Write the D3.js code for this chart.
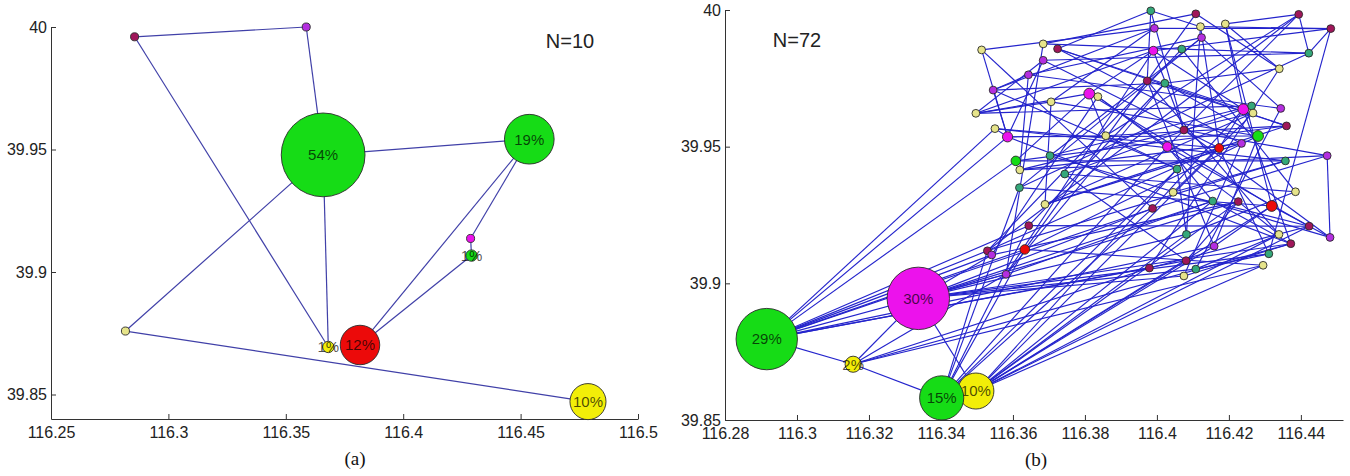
<!DOCTYPE html>
<html>
<head>
<meta charset="utf-8">
<script src="https://cdn.jsdelivr.net/npm/d3@7"></script>
<style>
  html, body { margin: 0; padding: 0; background: #fff; }
  svg { display: block; }
</style>
</head>
<body>
<svg id="chart" width="1350" height="476"></svg>
<script>
// ---------- Panel (a): N = 10 stay points ----------
const lonA   = [116.2856, 116.3587, 116.3659, 116.4537, 116.4287, 116.4291, 116.3681, 116.3816, 116.2817, 116.4787];
const latA   = [39.9960, 40.0000, 39.9478, 39.9542, 39.9137, 39.9067, 39.8694, 39.8702, 39.8759, 39.8471];
const shareA = [0.5, 0.5, 54, 19, 0.5, 1, 1, 12, 0.5, 10];
const groupA = ["m", "p", "G", "G", "M", "G", "Y", "R", "y", "Y"];
const edgesA = [[0, 1], [1, 2], [0, 6], [2, 6], [2, 3], [2, 8], [8, 9], [3, 7], [3, 4], [4, 5], [5, 7]];
const xTicksA = [116.25, 116.3, 116.35, 116.4, 116.45, 116.5];
const yTicksA = [39.85, 39.9, 39.95, 40];

// ---------- Panel (b): N = 72 stay points ----------
const lonB = [
  116.3513, 116.3684, 116.3724, 116.3684, 116.3643, 116.3545, 116.3812, 116.3836, 116.3706, 116.3497,
  116.3550, 116.3585, 116.3858, 116.3983, 116.4108, 116.3993, 116.4121, 116.4190, 116.4124, 116.3990,
  116.4069, 116.4394, 116.4483, 116.4422, 116.4340, 116.3973, 116.4022, 116.4240, 116.4263, 116.4267,
  116.4344, 116.4075, 116.4360, 116.4281, 116.4029, 116.4173, 116.4235, 116.3608, 116.3703, 116.3619,
  116.3744, 116.3618, 116.3689, 116.3644, 116.3529, 116.3541, 116.3633, 116.3581, 116.4473, 116.4357,
  116.4056, 116.4045, 116.4155, 116.4226, 116.4385, 116.4319, 116.3988, 116.4423, 116.4082, 116.4339,
  116.4481, 116.4372, 116.4159, 116.4311, 116.4081, 116.4108, 116.3979, 116.4075, 116.4295,
  116.2916, 116.3337, 116.3156, 116.3497, 116.3402
];
const latB = [
  39.9854, 39.9876, 39.9858, 39.9816, 39.9763, 39.9707, 39.9694, 39.9683, 39.9664, 39.9622,
  39.9566, 39.9536, 39.9540, 39.9997, 39.9986, 39.9933, 39.9939, 39.9949, 39.9899, 39.9851,
  39.9857, 39.9984, 39.9932, 39.9842, 39.9785, 39.9741, 39.9732, 39.9637, 39.9649, 39.9623,
  39.9640, 39.9561, 39.9576, 39.9539, 39.9500, 39.9495, 39.9512, 39.9448, 39.9467, 39.9415,
  39.9400, 39.9350, 39.9289, 39.9211, 39.9119, 39.9104, 39.9124, 39.9033, 39.9467, 39.9448,
  39.9418, 39.9333, 39.9301, 39.9299, 39.9335, 39.9283, 39.9274, 39.9209, 39.9179, 39.9179,
  39.9168, 39.9145, 39.9136, 39.9108, 39.9083, 39.9052, 39.9056, 39.9027, 39.9066,
  39.8796, 39.8945, 39.8704, 39.8606, 39.8581
];
const shareB = [
  0.3, 0.3, 0.3, 0.3, 0.3, 0.3, 0.9, 0.3, 0.3, 0.3,
  0.3, 0.8, 0.3, 0.3, 0.3, 0.3, 0.3, 0.3, 0.3, 0.6,
  0.3, 0.3, 0.3, 0.3, 0.3, 0.3, 0.3, 0.9, 0.3, 0.3,
  0.3, 0.3, 0.3, 0.9, 0.7, 0.6, 0.3, 0.7, 0.3, 0.3,
  0.3, 0.3, 0.3, 0.3, 0.3, 0.3, 0.7, 0.3, 0.3, 0.3,
  0.3, 0.3, 0.3, 0.3, 0.3, 0.9, 0.3, 0.3, 0.3, 0.3,
  0.3, 0.3, 0.3, 0.3, 0.3, 0.3, 0.3, 0.3, 0.3,
  29, 30, 2, 10, 15
];
const groupB = [
  "y", "y", "m", "p", "p", "p", "M", "y", "y", "y",
  "y", "M", "y", "t", "m", "p", "y", "y", "p", "M",
  "t", "m", "m", "t", "y", "m", "t", "M", "t", "y",
  "p", "m", "m", "G", "M", "R", "p", "G", "t", "y",
  "t", "t", "y", "m", "m", "p", "R", "p", "p", "t",
  "t", "y", "t", "m", "y", "R", "m", "m", "t", "y",
  "p", "m", "p", "t", "m", "t", "m", "y", "y",
  "G", "M", "Y", "Y", "G"
];
const edgesB = [
  // links of the large stay points
  [69, 11], [69, 37], [69, 10], [69, 44], [69, 46], [69, 45], [69, 43], [69, 47], [69, 66], [69, 64],
  [69, 62], [69, 56], [69, 71],
  [70, 71], [70, 72], [70, 47], [70, 45], [70, 58], [70, 52], [70, 63], [70, 61], [70, 65], [70, 67], [70, 56],
  [70, 53],
  [71, 73], [71, 47], [71, 66], [71, 68], [71, 61],
  [73, 44], [73, 46], [73, 43], [73, 41], [73, 34], [73, 50], [73, 56],
  [72, 55], [72, 35], [72, 52], [72, 58], [72, 64], [72, 68], [72, 59], [72, 57], [72, 50], [72, 62], [72, 53],
  // links among the small stay points
  [0, 11], [0, 56], [1, 14], [1, 47], [2, 13], [2, 32], [2, 27], [3, 11], [3, 35], [3, 23],
  [4, 30], [4, 39], [4, 18], [5, 50], [5, 11], [5, 15], [5, 4], [6, 37], [6, 9], [6, 19],
  [6, 55], [6, 12], [7, 53], [7, 45], [8, 42], [8, 9], [8, 33], [9, 19], [10, 49], [10, 11],
  [11, 12], [11, 33], [11, 61], [12, 21], [12, 32], [13, 16], [13, 25], [14, 46], [15, 22], [15, 8],
  [16, 22], [16, 35], [17, 27], [17, 55], [17, 24], [18, 30], [18, 41], [19, 27], [19, 31], [19, 47],
  [20, 23], [20, 54], [21, 34], [21, 23], [21, 44], [21, 17], [22, 63], [22, 19], [22, 23], [24, 26],
  [24, 66], [25, 32], [25, 59], [26, 33], [26, 43], [27, 35], [27, 56], [27, 61], [28, 40], [29, 51],
  [30, 65], [31, 48], [32, 37], [33, 46], [33, 62], [34, 57], [34, 7], [35, 63], [35, 44], [36, 42],
  [36, 67], [37, 49], [38, 60], [38, 28], [39, 48], [40, 54], [41, 55], [42, 29], [43, 57], [45, 53],
  [46, 68], [48, 60], [48, 56], [49, 51], [50, 58], [52, 61], [53, 64], [54, 58], [55, 62], [55, 60],
  [57, 66], [59, 65], [61, 67], [63, 65],
  [0, 15], [1, 20], [2, 36], [3, 9], [5, 26], [9, 28], [10, 35], [12, 50], [13, 31], [14, 24],
  [16, 58], [18, 38], [20, 44], [23, 41], [25, 62], [26, 47], [29, 39], [31, 60], [32, 42], [34, 52],
  [36, 39], [40, 64], [44, 49], [47, 52], [51, 57], [53, 59]
];
const xTicksB = [116.28, 116.3, 116.32, 116.34, 116.36, 116.38, 116.4, 116.42, 116.44];
const yTicksB = [39.85, 39.9, 39.95, 40];

// ---------- styling ----------
const groupColor = {
  G: "#16dc16", R: "#ec0a0a", Y: "#f2ee08", M: "#ec12ec",
  m: "#a0165a", p: "#b42ee0", t: "#34a87a", y: "#e6e48a"
};
const radiusScale = share => Math.max(3.9, 57 * Math.sqrt(share / 100));
const fontSans = "'Liberation Sans', Arial, Helvetica, sans-serif";
const fmt = d => String(+d.toFixed(4));

const svg = d3.select("#chart");

function drawPanel(cfg) {
  const g = svg.append("g");
  const x = d3.scaleLinear().domain(cfg.xDomain).range(cfg.xRange);
  const y = d3.scaleLinear().domain(cfg.yDomain).range(cfg.yRange);

  // axes: left and bottom only, ticks pointing inward
  const xAxis = d3.axisBottom(x).tickValues(cfg.xTicks).tickFormat(fmt)
    .tickSizeInner(-5).tickSizeOuter(0).tickPadding(8);
  const yAxis = d3.axisLeft(y).tickValues(cfg.yTicks).tickFormat(fmt)
    .tickSizeInner(-5).tickSizeOuter(0).tickPadding(4);

  const gx = g.append("g").attr("transform", `translate(0,${cfg.yRange[0]})`).call(xAxis);
  const gy = g.append("g").attr("transform", `translate(${cfg.xRange[0]},0)`).call(yAxis);
  [gx, gy].forEach(ax => {
    ax.attr("font-family", fontSans).attr("font-size", 16);
    ax.selectAll("path, line").attr("stroke", "#333").attr("stroke-width", 1);
    ax.selectAll("text").attr("fill", "#222");
  });

  const nodes = cfg.lon.map((lon, i) => ({
    lon, lat: cfg.lat[i], share: cfg.share[i], group: cfg.group[i]
  }));

  // links between consecutive stays
  g.append("g").selectAll("line").data(cfg.edges).join("line")
    .attr("x1", d => x(nodes[d[0]].lon)).attr("y1", d => y(nodes[d[0]].lat))
    .attr("x2", d => x(nodes[d[1]].lon)).attr("y2", d => y(nodes[d[1]].lat))
    .attr("stroke", cfg.edgeColor).attr("stroke-width", cfg.edgeWidth);

  // stay points sized by share of time, labelled when share >= 1%
  const ng = g.append("g").selectAll("g").data(nodes).join("g")
    .attr("transform", d => `translate(${x(d.lon)},${y(d.lat)})`);
  ng.append("circle")
    .attr("r", d => radiusScale(d.share))
    .attr("fill", d => groupColor[d.group])
    .attr("stroke", "#2a2a2a").attr("stroke-width", 0.9);
  ng.filter(d => d.share >= 1).append("text")
    .text(d => `${Math.round(d.share)}%`)
    .attr("text-anchor", "middle").attr("dy", "0.36em")
    .attr("font-family", fontSans).attr("font-size", 15)
    .attr("fill", "#000").attr("fill-opacity", 0.7);

  // count annotation
  g.append("text").text(cfg.title)
    .attr("x", cfg.titlePos[0]).attr("y", cfg.titlePos[1])
    .attr("text-anchor", "middle").attr("font-family", fontSans)
    .attr("font-size", 20).attr("fill", "#222");

  // sub-figure caption
  g.append("text").text(cfg.caption)
    .attr("x", cfg.captionPos[0]).attr("y", cfg.captionPos[1])
    .attr("text-anchor", "middle")
    .attr("font-family", "'Liberation Serif', 'Times New Roman', serif")
    .attr("font-size", 19).attr("fill", "#111");
}

drawPanel({
  lon: lonA, lat: latA, share: shareA, group: groupA, edges: edgesA,
  xDomain: [116.25, 116.5], xRange: [51, 638],
  yDomain: [39.84, 40], yRange: [419, 27],
  xTicks: xTicksA, yTicks: yTicksA,
  edgeColor: "#4040a8", edgeWidth: 1.2,
  title: "N=10", titlePos: [570, 48],
  caption: "(a)", captionPos: [355, 465]
});

drawPanel({
  lon: lonB, lat: latB, share: shareB, group: groupB, edges: edgesB,
  xDomain: [116.28, 116.4517], xRange: [725, 1343],
  yDomain: [39.85, 40], yRange: [420, 10],
  xTicks: xTicksB, yTicks: yTicksB,
  edgeColor: "#2424cc", edgeWidth: 1.15,
  title: "N=72", titlePos: [797, 47],
  caption: "(b)", captionPos: [1036, 466]
});
</script>
</body>
</html>
